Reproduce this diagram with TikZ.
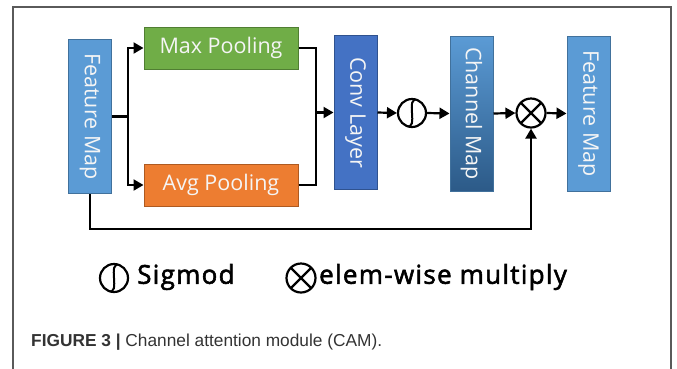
\documentclass[tikz,border=0pt]{standalone}
\usepackage{fontspec}
\usepackage{tikz}
\usetikzlibrary{positioning,arrows.meta,calc}

\newfontfamily\boxfont{Open Sans}
\newfontfamily\legfont{Open Sans}[FakeBold=2.2, LetterSpace=5]
\newfontfamily\capfont{Liberation Sans}

\definecolor{fmblue}{HTML}{5B9BD5}
\definecolor{fmedge}{HTML}{41719C}
\definecolor{convblue}{HTML}{4472C4}
\definecolor{convedge}{HTML}{2F528F}
\definecolor{chandark}{HTML}{2C5A88}
\definecolor{poolgreen}{HTML}{70AD47}
\definecolor{greenedge}{HTML}{507E32}
\definecolor{poolorange}{HTML}{ED7D31}
\definecolor{orangeedge}{HTML}{AE5A21}
\definecolor{framegray}{HTML}{5A5A5A}
\definecolor{captext}{HTML}{333333}

\tikzset{
  vbox/.style={draw, line width=1pt, minimum width=43pt, minimum height=154pt,
    label={[rotate=-90, font=\boxfont\fontsize{21.5}{25}\selectfont, text=white!92!gray]center:#1}},
  hbox/.style={draw, line width=1pt, minimum width=154pt, minimum height=42pt,
    font=\boxfont\fontsize{21.5}{25}\selectfont, text=white!92!gray},
  flow/.style={line width=2.2pt, -{Triangle[length=10pt,width=11pt]}},
  link/.style={line width=2.2pt},
  sigmark/.style={circle, draw, line width=2.2pt, minimum size=28pt, inner sep=0pt,
    path picture={\draw[line width=2pt] ([shift={(-6pt,-13pt)}]path picture bounding box.center)
      .. controls ([shift={(8pt,-18pt)}]path picture bounding box.center)
      and ([shift={(-8pt,18pt)}]path picture bounding box.center)
      .. ([shift={(6pt,13pt)}]path picture bounding box.center);}},
  mulmark/.style={circle, draw, line width=2.2pt, minimum size=29pt, inner sep=0pt,
    path picture={\draw[line width=2.2pt]
      (path picture bounding box.north west) -- (path picture bounding box.south east)
      (path picture bounding box.north east) -- (path picture bounding box.south west);}},
  legtext/.style={anchor=west, inner sep=0pt, font=\legfont\fontsize{26}{30}\selectfont},
}

\begin{document}
\begin{tikzpicture}[x=1pt, y=-1pt]

\useasboundingbox (0,0) rectangle (677,368);

% frame, open at the bottom
\draw[framegray, line width=1.3pt] (13,380) -- (13,7) -- (671,7) -- (671,380);

% blocks
\node[vbox=Feature Map, fill=fmblue, draw=fmedge] (fmIn) at (90,116.5) {};
\node[hbox, fill=poolgreen, draw=greenedge] (maxP) at (221,48) {Max Pooling};
\node[hbox, fill=poolorange, draw=orangeedge] (avgP) at (221,185) {Avg Pooling};
\node[vbox=Conv Layer, fill=convblue, draw=convedge] (conv) at (355.5,112.5) {};
\node[sigmark] (sig) at (412,113) {};
\node[vbox=Channel Map, top color=fmblue, bottom color=chandark, draw=fmedge,
      minimum height=155pt] (chan) at (471.5,113.5) {};
\node[mulmark] (mul) at (531,113) {};
\node[vbox=Feature Map, fill=fmblue, draw=fmedge, minimum height=155pt] (fmOut) at (588.5,113.5) {};

% split and merge points
\coordinate (split) at (128,116.5);
\coordinate (merge) at (316,112.5);
\coordinate (loop) at (90,229);

\draw[link] (fmIn.east) -- (split);
\draw[flow] (split) |- (maxP.west);
\draw[flow] (split) |- (avgP.west);
\draw[link] (maxP.east) -| (merge);
\draw[link] (avgP.east) -| (merge);
\draw[flow] (merge) -- (conv.west);
\draw[flow] (conv.east) -- (sig.west);
\draw[flow] (sig.east) -- (chan.west);
\draw[flow] (chan.east) -- (mul.west);
\draw[flow] (mul.east) -- (fmOut.west);
\draw[flow] (fmIn.south) -- (loop) -| (mul.south);

% legend
\node[sigmark] (legSig) at (114,278) {};
\node[legtext] (legSigTxt) at (137,277) {Sigmod};
\node[mulmark] (legMul) at (301,278) {};
\node[legtext] (legMulTxt) at (319,277) {elem-wise multiply};

% caption
\node[anchor=base west, inner sep=0pt, text=captext, font=\capfont\fontsize{17.3}{20}\selectfont] (cap) at (31,346)
  {\textbf{FIGURE 3 |} Channel attention module (CAM).};

\end{tikzpicture}
\end{document}
